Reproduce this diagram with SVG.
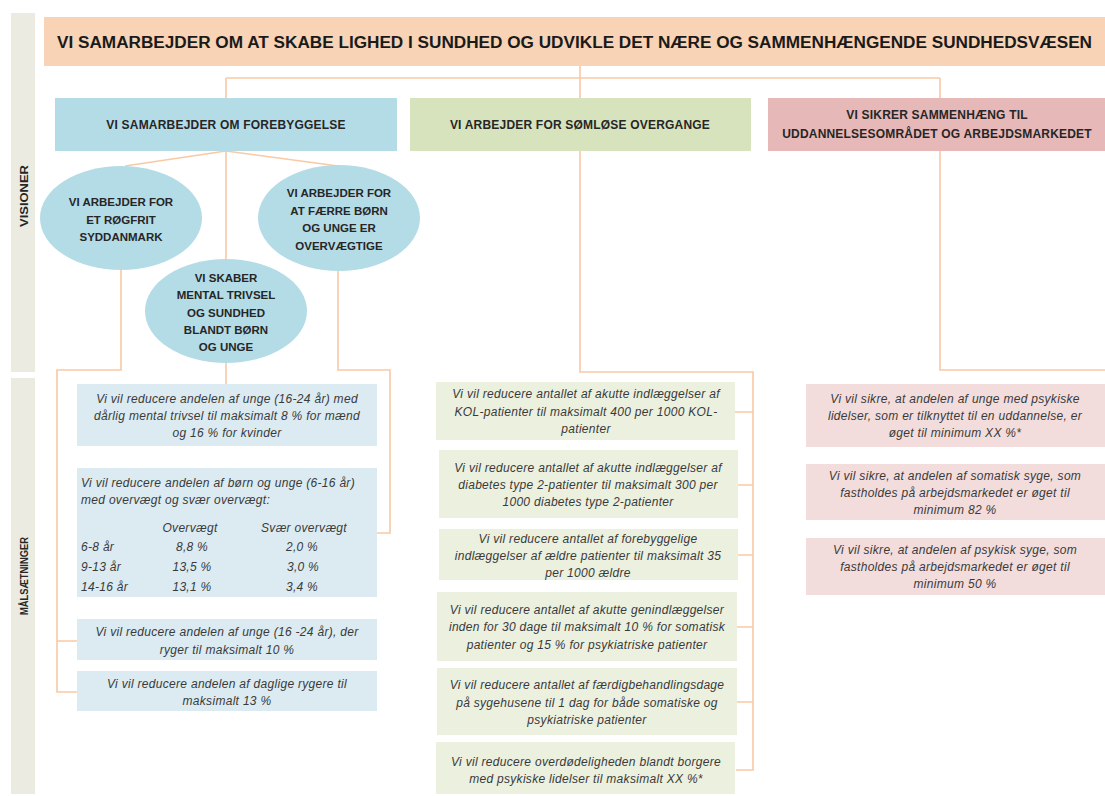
<svg xmlns="http://www.w3.org/2000/svg" width="1105" height="796" viewBox="0 0 1105 796">
<style>
.side{fill:#ebebe1}
.sideT{font-family:"Liberation Sans",Arial,sans-serif;font-weight:bold;font-size:11.5px;fill:#262626;text-anchor:middle}
.hdr{fill:#f8d3b5}
.hdrT{font-family:"Liberation Sans",Arial,sans-serif;font-weight:bold;font-size:16px;fill:#1a1a1a}
.l2T{font-family:"Liberation Sans",Arial,sans-serif;font-weight:bold;font-size:12px;letter-spacing:0.2px;fill:#262626;text-anchor:middle}
.ellT{font-family:"Liberation Sans",Arial,sans-serif;font-weight:bold;font-size:11.5px;fill:#262626;text-anchor:middle}
.goalT{font-family:"Liberation Sans",Arial,sans-serif;font-style:italic;font-size:12px;letter-spacing:0.3px;fill:#3a3a3a;text-anchor:middle}
.goalL{font-family:"Liberation Sans",Arial,sans-serif;font-style:italic;font-size:12px;letter-spacing:0.3px;fill:#3a3a3a}
.blue{fill:#b4dce6}
.green{fill:#d7e3bc}
.red{fill:#e6b8b7}
.gblue{fill:#dbebf1}
.ggreen{fill:#ebf0df}
.gred{fill:#f2dddc}
.con{fill:none;stroke:#f9c9a4;stroke-width:1.6}
</style>

<g id="sidebar-visioner">
<rect class="side" x="11" y="13" width="24" height="359"/>
<text class="sideT" transform="translate(28,196) rotate(-90)" textLength="62" lengthAdjust="spacingAndGlyphs">VISIONER</text>
</g>
<g id="sidebar-malsaetninger">
<rect class="side" x="11" y="378" width="24" height="416"/>
<text class="sideT" transform="translate(28,576) rotate(-90)" textLength="78" lengthAdjust="spacingAndGlyphs">MÅLSÆTNINGER</text>
</g>

<g id="connectors">
<path class="con" d="M580,66 V150 M226,78 H940 M226,78 V98 M940,78 V98"/>
<path class="con" d="M226,151 L125,166 M226,151 L338,166 M226,151 V259 M226,363 V384"/>
<path class="con" d="M121,270 V370 H57 V692 H77 M57,641 H77"/>
<path class="con" d="M338,271 V370 H390 V533 H377"/>
<path class="con" d="M580,150 V372 H753 V770 H736 M753,412 H735 M753,485 H738 M753,555 H738 M753,627 H737 M753,702 H737"/>
<path class="con" d="M940,150 V370 H1105"/>
</g>

<g id="header">
<rect class="hdr" x="44" y="17" width="1061" height="49"/>
<text class="hdrT" x="57" y="48" textLength="1035" lengthAdjust="spacingAndGlyphs">VI SAMARBEJDER  OM AT SKABE LIGHED I SUNDHED OG UDVIKLE DET NÆRE OG SAMMENHÆNGENDE  SUNDHEDSVÆSEN</text>
</g>

<g id="vision-forebyggelse">
<rect class="blue" x="55" y="98" width="342" height="53"/>
<text class="l2T" x="226" y="129">VI SAMARBEJDER OM FOREBYGGELSE</text>
</g>
<g id="vision-overgange">
<rect class="green" x="410" y="98" width="341" height="53"/>
<text class="l2T" x="580" y="129">VI ARBEJDER FOR SØMLØSE OVERGANGE</text>
</g>
<g id="vision-sammenhaeng">
<rect class="red" x="768" y="98" width="337" height="53"/>
<text class="l2T" x="937" y="119">VI SIKRER SAMMENHÆNG TIL</text>
<text class="l2T" x="937" y="138">UDDANNELSESOMRÅDET OG ARBEJDSMARKEDET</text>
</g>

<g id="ell-roegfrit">
<ellipse class="blue" cx="121" cy="218" rx="81" ry="52"/>
<text class="ellT" x="121" y="206">VI ARBEJDER FOR</text>
<text class="ellT" x="121" y="224">ET RØGFRIT</text>
<text class="ellT" x="121" y="241">SYDDANMARK</text>
</g>
<g id="ell-overvaegt">
<ellipse class="blue" cx="339" cy="218" rx="81" ry="53"/>
<text class="ellT" x="339" y="197">VI ARBEJDER FOR</text>
<text class="ellT" x="339" y="215">AT FÆRRE BØRN</text>
<text class="ellT" x="339" y="232">OG UNGE ER</text>
<text class="ellT" x="339" y="250">OVERVÆGTIGE</text>
</g>
<g id="ell-mental">
<ellipse class="blue" cx="226" cy="311" rx="81" ry="52"/>
<text class="ellT" x="226" y="282">VI SKABER</text>
<text class="ellT" x="226" y="299">MENTAL TRIVSEL</text>
<text class="ellT" x="226" y="317">OG SUNDHED</text>
<text class="ellT" x="226" y="334">BLANDT BØRN</text>
<text class="ellT" x="226" y="351">OG UNGE</text>
</g>

<g id="goal-b1">
<rect class="gblue" x="77" y="384" width="300" height="62"/>
<text class="goalT" x="227" y="403">Vi vil reducere andelen af unge (16-24 år) med</text>
<text class="goalT" x="227" y="420">dårlig mental trivsel til maksimalt 8 % for mænd</text>
<text class="goalT" x="227" y="437">og 16 % for kvinder</text>
</g>
<g id="goal-b2">
<rect class="gblue" x="77" y="468" width="300" height="129"/>
<text class="goalL" x="81" y="487">Vi vil reducere andelen af børn og unge (6-16 år)</text>
<text class="goalL" x="81" y="504">med overvægt og svær overvægt:</text>
<text class="goalT" x="190" y="532">Overvægt</text>
<text class="goalT" x="304" y="532">Svær overvægt</text>
<text class="goalL" x="81" y="551">6-8 år</text>
<text class="goalT" x="192" y="551">8,8 %</text>
<text class="goalT" x="302" y="551">2,0 %</text>
<text class="goalL" x="81" y="571">9-13 år</text>
<text class="goalT" x="192" y="571">13,5 %</text>
<text class="goalT" x="303" y="571">3,0 %</text>
<text class="goalL" x="81" y="591">14-16 år</text>
<text class="goalT" x="192" y="591">13,1 %</text>
<text class="goalT" x="302" y="591">3,4 %</text>
</g>
<g id="goal-b3">
<rect class="gblue" x="77" y="619" width="300" height="41"/>
<text class="goalT" x="227" y="636">Vi vil reducere andelen af unge (16 -24 år), der</text>
<text class="goalT" x="227" y="654">ryger til maksimalt 10 %</text>
</g>
<g id="goal-b4">
<rect class="gblue" x="77" y="671" width="300" height="40"/>
<text class="goalT" x="227" y="688">Vi vil reducere andelen af daglige rygere til</text>
<text class="goalT" x="227" y="705">maksimalt 13 %</text>
</g>

<g id="goal-g1">
<rect class="ggreen" x="436" y="382" width="299" height="58"/>
<text class="goalT" x="586" y="398">Vi vil reducere antallet af akutte indlæggelser af</text>
<text class="goalT" x="586" y="416">KOL-patienter til  maksimalt 400 per 1000 KOL-</text>
<text class="goalT" x="586" y="433">patienter</text>
</g>
<g id="goal-g2">
<rect class="ggreen" x="439" y="450" width="299" height="68"/>
<text class="goalT" x="588" y="472">Vi vil reducere antallet af akutte indlæggelser af</text>
<text class="goalT" x="588" y="489">diabetes type 2-patienter til maksimalt 300 per</text>
<text class="goalT" x="588" y="506">1000 diabetes type 2-patienter</text>
</g>
<g id="goal-g3">
<rect class="ggreen" x="439" y="529" width="299" height="51"/>
<text class="goalT" x="588" y="543">Vi vil reducere antallet af forebyggelige</text>
<text class="goalT" x="588" y="560">indlæggelser af ældre patienter til maksimalt 35</text>
<text class="goalT" x="588" y="577">per 1000 ældre</text>
</g>
<g id="goal-g4">
<rect class="ggreen" x="437" y="592" width="300" height="69"/>
<text class="goalT" x="587" y="614">Vi vil reducere antallet af akutte genindlæggelser</text>
<text class="goalT" x="587" y="631">inden for 30 dage til maksimalt 10 % for somatisk</text>
<text class="goalT" x="587" y="649">patienter og 15 % for psykiatriske patienter</text>
</g>
<g id="goal-g5">
<rect class="ggreen" x="437" y="668" width="300" height="67"/>
<text class="goalT" x="587" y="689">Vi vil reducere antallet af færdigbehandlingsdage</text>
<text class="goalT" x="587" y="707">på sygehusene til 1 dag for både somatiske og</text>
<text class="goalT" x="587" y="724">psykiatriske patienter</text>
</g>
<g id="goal-g6">
<rect class="ggreen" x="436" y="742" width="299" height="52"/>
<text class="goalT" x="586" y="766">Vi vil reducere overdødeligheden blandt borgere</text>
<text class="goalT" x="586" y="783">med psykiske lidelser til maksimalt XX %*</text>
</g>

<g id="goal-r1">
<rect class="gred" x="806" y="384" width="299" height="63"/>
<text class="goalT" x="955" y="403">Vi vil sikre, at andelen af unge med psykiske</text>
<text class="goalT" x="955" y="420">lidelser, som er tilknyttet til en uddannelse, er</text>
<text class="goalT" x="955" y="437">øget til minimum  XX %*</text>
</g>
<g id="goal-r2">
<rect class="gred" x="806" y="464" width="299" height="56"/>
<text class="goalT" x="955" y="480">Vi vil sikre, at andelen af somatisk syge, som</text>
<text class="goalT" x="955" y="497">fastholdes på arbejdsmarkedet er øget til</text>
<text class="goalT" x="955" y="514">minimum  82 %</text>
</g>
<g id="goal-r3">
<rect class="gred" x="806" y="538" width="299" height="57"/>
<text class="goalT" x="955" y="554">Vi vil sikre, at andelen af psykisk syge, som</text>
<text class="goalT" x="955" y="571">fastholdes på arbejdsmarkedet er øget til</text>
<text class="goalT" x="955" y="588">minimum  50 %</text>
</g>
</svg>
